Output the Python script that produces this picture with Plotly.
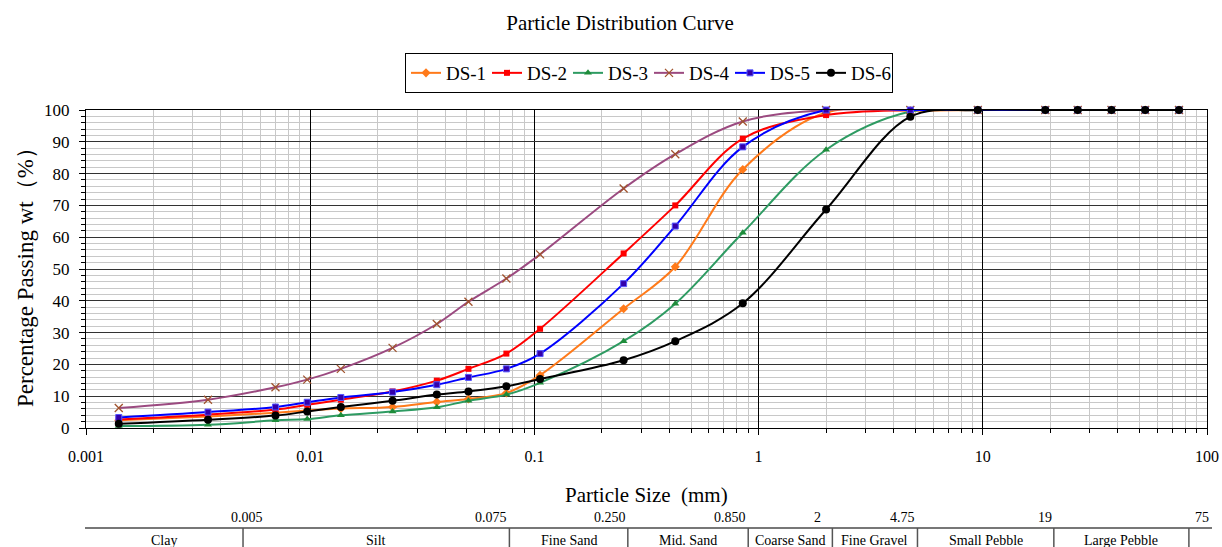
import math
import plotly.graph_objects as go

# ---------------- data ----------------
particle_size = [0.0014, 0.0035, 0.007, 0.0097, 0.0137, 0.0233, 0.0367, 0.0508, 0.075, 0.106,
                 0.25, 0.425, 0.85, 2, 4.75, 9.5, 19, 26.5, 37.5, 53, 75]

ds1 = [2.4, 3.6, 4.8, 5.5, 6.1, 6.6, 8.2, 9.1, 11.0, 16.6, 37.5, 50.7, 81.3, 99.2, 99.8, 100, 100, 100, 100, 100, 100]
ds2 = [2.7, 4.2, 5.8, 7.3, 8.9, 11.5, 14.9, 18.6, 23.4, 31.2, 54.9, 70.0, 91.0, 98.4, 100, 100, 100, 100, 100, 100, 100]
ds3 = [0.6, 1.0, 2.4, 2.8, 4.0, 5.2, 6.5, 8.6, 10.5, 14.2, 27.3, 39.1, 61.4, 87.5, 99.5, 100, 100, 100, 100, 100, 100]
ds4 = [6.3, 8.9, 12.8, 15.2, 18.6, 25.2, 32.7, 39.7, 47.0, 54.6, 75.3, 86.1, 96.4, 100, 100, 100, 100, 100, 100, 100, 100]
ds5 = [3.3, 5.0, 6.6, 8.1, 9.6, 11.3, 13.6, 15.9, 18.6, 23.4, 45.4, 63.5, 88.4, 100, 100, 100, 100, 100, 100, 100, 100]
ds6 = [1.3, 2.6, 3.9, 5.2, 6.6, 8.6, 10.5, 11.5, 13.1, 15.4, 21.3, 27.3, 39.2, 68.7, 97.9, 100, 100, 100, 100, 100, 100]

series_names = ["DS-1", "DS-2", "DS-3", "DS-4", "DS-5", "DS-6"]

x_tick_vals = [0.001, 0.01, 0.1, 1, 10, 100]
x_tick_text = ["0.001", "0.01", "0.1", "1", "10", "100"]

# classification table below the chart
class_bounds = [0.001, 0.005, 0.075, 0.25, 0.85, 2, 4.75, 19, 75]
bound_labels = ["0.005", "0.075", "0.250", "0.850", "2", "4.75", "19", "75"]
class_names = ["Clay", "Silt", "Fine Sand", "Mid. Sand", "Coarse Sand", "Fine Gravel",
               "Small Pebble", "Large Pebble"]

# ---------------- styles ----------------
FONT = "Liberation Serif"
styles = [
    dict(line="#FF7A1A", marker=dict(symbol="diamond", size=7, color="#FF7A1A")),
    dict(line="#FF0000", marker=dict(symbol="square", size=6, color="#FF0000")),
    dict(line="#2E9B62", marker=dict(symbol="triangle-up", size=7, color="#1E8C3A")),
    dict(line="#9B4A80", marker=dict(symbol="x-thin-open", size=8, color="#A0522D",
                                     line=dict(width=1.3, color="#A0522D"))),
    dict(line="#0000FF", marker=dict(symbol="square", size=6, color="#3300AA",
                                     line=dict(width=1, color="#5555FF"))),
    dict(line="#000000", marker=dict(symbol="circle", size=8, color="#000000")),
]
all_series = [ds1, ds2, ds3, ds4, ds5, ds6]

fig = go.Figure()
for name, ys, st in zip(series_names, all_series, styles):
    fig.add_trace(go.Scatter(
        x=particle_size, y=ys, name=name, mode="lines+markers",
        line=dict(color=st["line"], width=2, shape="spline", smoothing=1),
        marker=st["marker"], cliponaxis=False,
    ))

W, H = 1222, 547
plot_left_s, plot_right_s, plot_top_s, plot_bot_s = 86, 1207, 110, 428   # screen px
L, R, T, B = plot_left_s, W - plot_right_s, plot_top_s, H - plot_bot_s
PW = plot_right_s - plot_left_s
PH = plot_bot_s - plot_top_s


def py(screen_y):
    return (plot_bot_s - screen_y) / PH


def px(screen_x):
    return (screen_x - plot_left_s) / PW


fig.update_layout(
    width=W, height=H,
    margin=dict(l=L, r=R, t=T, b=B, autoexpand=False),
    plot_bgcolor="white", paper_bgcolor="white",
    font=dict(family=FONT, color="black"),
    title=dict(text="Particle Distribution Curve", x=620 / W, xanchor="center",
               y=1 - 23 / H, yanchor="middle", xref="container", yref="container",
               font=dict(size=21, family=FONT, color="black")),
    legend=dict(orientation="h", x=px(649), xanchor="center", y=py(73), yanchor="middle",
                bordercolor="black", borderwidth=1, font=dict(size=19, family=FONT),
                itemwidth=30, entrywidth=36, entrywidthmode="pixels",
                tracegroupgap=0, bgcolor="white"),
    showlegend=True,
)

fig.update_xaxes(
    type="log", range=[-3, 2],
    tickvals=x_tick_vals, ticktext=x_tick_text,
    tickfont=dict(size=16, family=FONT),
    showline=True, linecolor="black", linewidth=1, mirror=True,
    showgrid=True, gridcolor="#000000", gridwidth=1,
    ticks="outside", ticklen=6, tickcolor="black",
    ticklabelstandoff=8,
    minor=dict(dtick="D1", showgrid=True, gridcolor="#C8C8C8", gridwidth=1,
               ticks="outside", ticklen=4, tickcolor="black"),
    zeroline=False,
)
fig.update_yaxes(
    range=[0, 100], dtick=10,
    tickfont=dict(size=17, family=FONT),
    showline=True, linecolor="black", linewidth=1, mirror=True,
    showgrid=True, gridcolor="#333333", gridwidth=1,
    ticks="outside", ticklen=6, tickcolor="black",
    ticklabelstandoff=6,
    minor=dict(dtick=2, showgrid=True, gridcolor="#C8C8C8", gridwidth=1,
               ticks="outside", ticklen=4, tickcolor="black"),
    zeroline=False,
)

# hidden axis used for the classification table (slightly different scale, as in the source)
tbl_px_per_dec, tbl_px_at_1 = 226.5, 764.2
fig.update_layout(xaxis2=dict(
    type="log", overlaying="x", visible=False,
    range=[(plot_left_s - tbl_px_at_1) / tbl_px_per_dec, (plot_right_s - tbl_px_at_1) / tbl_px_per_dec],
))

# axis titles
fig.add_annotation(text="Percentage Passing wt（%）", textangle=-90, xref="paper", yref="paper",
                   x=px(25), y=py(272), showarrow=False,
                   xanchor="center", yanchor="middle", font=dict(size=23, family=FONT))
fig.add_annotation(text="Particle Size  (mm)", xref="paper", yref="paper",
                   x=px(646), y=py(495), showarrow=False, xanchor="center",
                   yanchor="middle", font=dict(size=21, family=FONT))

# table
y_num = py(517)
y_line = py(528)
y_name = py(540)
fig.add_shape(type="line", xref="paper", yref="paper", x0=px(85), x1=px(1212), y0=y_line, y1=y_line,
              line=dict(color="#777777", width=2))
anchors = ["center", "right", "right", "right", "right", "right", "right", "left"]
shifts = [4, 0, 0, 0, -9, 0, 0, 4]
for b, lab, anc, sh in zip(class_bounds[1:], bound_labels, anchors, shifts):
    fig.add_shape(type="line", xref="x2", yref="paper", x0=b, x1=b, y0=y_line, y1=py(550),
                  line=dict(color="#555555", width=1.5))
    fig.add_annotation(text=lab, xref="x2", yref="paper", x=math.log10(b), y=y_num,
                       showarrow=False, xanchor=anc, yanchor="middle", xshift=sh,
                       font=dict(size=14, family=FONT))
for i, nm in enumerate(class_names):
    mid = (math.log10(class_bounds[i]) + math.log10(class_bounds[i + 1])) / 2
    fig.add_annotation(text=nm, xref="x2", yref="paper", x=mid, y=y_name, showarrow=False,
                       xanchor="center", yanchor="middle", font=dict(size=14, family=FONT))

fig.write_html(
    "out.html",
    config={"displayModeBar": False},
    post_script="document.body.style.margin='0';document.documentElement.style.overflow='hidden';",
)
